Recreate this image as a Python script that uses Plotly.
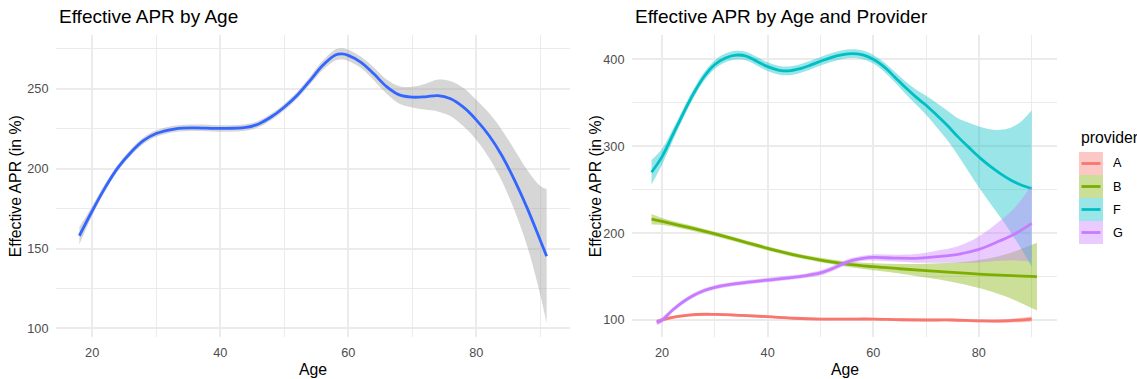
import plotly.graph_objects as go

# ---------------- data ----------------
# Left panel: overall smooth
age_all = [18, 20, 22, 24, 26, 28, 30, 33, 36, 40, 44, 46, 48, 50, 52, 54, 56, 58, 59, 60,
           62, 64, 66, 68, 70, 72, 74, 76, 78, 80, 82, 84, 86, 88, 90, 91]
apr_all = [158, 173.5, 188, 200.5, 210, 217.5, 222, 225, 225.6, 225.2, 225.8, 228, 232.5, 238.5,
           245.8, 255, 264.6, 271.2, 271.9, 271, 266.6, 259.4, 251.4, 246.2, 244.8, 245, 245.8,
           243.8, 238.5, 230.6, 220.8, 208.3, 192.7, 175, 155.2, 145.2]
se_all = [5.5, 3, 2.5, 2, 2, 2, 2, 2, 2, 2, 2, 2, 2, 2, 2.2, 2.5, 3, 3.5, 3.5, 3.5,
          3.5, 4, 4.5, 5.5, 6.5, 8, 10, 11, 12, 12.5, 14, 16, 19, 24, 34, 42]

# Right panel: by provider
providers = ["A", "B", "F", "G"]
colors = {"A": "#F8766D", "B": "#7CAE00", "F": "#00BFC4", "G": "#C77CFF"}

age_A = [19, 20, 22, 25, 28, 30, 35, 40, 45, 50, 55, 60, 65, 70, 75, 80, 85, 90]
apr_A = [98.1, 100, 103, 105.5, 106.6, 106.5, 105.3, 103.8, 102, 101.1, 101.1, 101.1, 100.3, 100,
         100, 99, 98.9, 101.1]
se_A = [2.5, 2, 1.5, 1.5, 1.5, 1.5, 1.5, 1.5, 1.5, 1.5, 1.5, 1.5, 1.5, 1.5, 1.5, 1.5, 2, 3]

age_B = [18, 20, 25, 30, 35, 40, 45, 50, 55, 60, 65, 70, 75, 80, 85, 91]
apr_B = [216, 213.5, 206.5, 199, 190.8, 182.4, 174.9, 169, 164.3, 161.3, 159, 156.8, 154.8, 152.9,
         151.3, 149.8]
se_B = [6, 4, 3, 2.5, 2.5, 2.5, 2.5, 2.5, 3, 4, 5.5, 8, 11, 16, 24, 39]

age_F = [18, 20, 22, 24, 26, 28, 30, 32, 34, 36, 38, 40, 42, 44, 46, 48, 50, 52, 54, 56,
         58, 60, 62, 64, 66, 68, 70, 72, 74, 76, 78, 80, 82, 84, 86, 88, 90]
apr_F = [270, 288, 312.6, 337.6, 361, 380.5, 394, 401.5, 404.8, 403.5, 397.5, 391.5, 387.6,
         386.6, 389, 393, 397.7, 402, 405, 406.4, 405, 400, 391.5, 380, 368, 357, 347.1,
         335.8, 324, 311, 299.2, 287.7, 277.6, 268.8, 261.2, 255.4, 251.3]
se_F = [14, 9, 6.5, 5.5, 5, 5, 5, 5, 5, 5, 5, 5, 5, 5, 5, 5, 5, 5, 5, 5,
        5, 5, 5.5, 6, 7, 8.5, 11, 14, 17, 21, 28, 35, 42, 50, 60, 73, 90]

age_G = [19, 20, 22, 24, 26, 28, 30, 33, 36, 40, 44, 47, 50, 52, 54, 56, 58, 60, 64, 68,
         72, 76, 80, 84, 87, 90]
apr_G = [96.9, 100, 111.5, 121, 128.5, 134, 137.6, 141, 143.3, 146, 148.6, 150.8, 154.2,
         158.5, 164, 168.5, 171, 172, 171.2, 171, 172.8, 175.5, 181.2, 191.1, 199.6, 211.1]
se_G = [3, 3, 2.5, 2.5, 2.5, 2.5, 2.5, 2.5, 2.5, 2.5, 2.5, 2.5, 3, 3, 3, 3, 3, 3.5, 4, 5,
        7, 9.5, 15, 23, 31, 44]

series = {
    "A": (age_A, apr_A, se_A),
    "B": (age_B, apr_B, se_B),
    "F": (age_F, apr_F, se_F),
    "G": (age_G, apr_G, se_G),
}

x_ticks = [20, 40, 60, 80]
left_y_ticks = [100, 150, 200, 250]
right_y_ticks = [100, 200, 300, 400]

# ---------------- layout constants (pixels) ----------------
W, H = 1137, 379
L_X0, L_X1 = 56, 570
R_X0, R_X1 = 632, 1057
P_TOP, P_BOT = 35.2, 337.3

def px(x):
    return x / W

def py(y):
    return 1 - y / H

FONT = "Liberation Sans, Arial, Helvetica, sans-serif"
GRID = "#EBEBEB"
TICK_COL = "#4D4D4D"

def rgba(hex_color, a):
    h = hex_color.lstrip("#")
    r, g, b = int(h[0:2], 16), int(h[2:4], 16), int(h[4:6], 16)
    return f"rgba({r},{g},{b},{a})"

fig = go.Figure()

def add_smooth(x, y, se, line_color, fill_color, xa, ya):
    lower = [v - s for v, s in zip(y, se)]
    upper = [v + s for v, s in zip(y, se)]
    fig.add_trace(go.Scatter(x=x, y=lower, mode="lines", line=dict(width=0, shape="spline", smoothing=1),
                             hoverinfo="skip", showlegend=False, xaxis=xa, yaxis=ya))
    fig.add_trace(go.Scatter(x=x, y=upper, mode="lines", line=dict(width=0, shape="spline", smoothing=1),
                             fill="tonexty", fillcolor=fill_color,
                             hoverinfo="skip", showlegend=False, xaxis=xa, yaxis=ya))
    fig.add_trace(go.Scatter(x=x, y=y, mode="lines",
                             line=dict(color=line_color, width=2.8, shape="spline", smoothing=1),
                             showlegend=False, xaxis=xa, yaxis=ya))

# left panel
add_smooth(age_all, apr_all, se_all, "#3366FF", "rgba(153,153,153,0.4)", "x", "y")

# right panel
for p in providers:
    a, v, s = series[p]
    add_smooth(a, v, s, colors[p], rgba(colors[p], 0.4), "x2", "y2")

axis_common = dict(
    showline=False, zeroline=False, showgrid=True, gridcolor=GRID, gridwidth=1.5,
    ticks="outside", tickcolor="rgba(0,0,0,0)",
    tickfont=dict(family=FONT, size=12.7, color=TICK_COL),
)

fig.update_layout(
    width=W, height=H,
    margin=dict(l=0, r=0, t=0, b=0),
    paper_bgcolor="white", plot_bgcolor="white",
    showlegend=False,
    xaxis=dict(domain=[px(L_X0), px(L_X1)], range=[14.35, 94.65], tickvals=x_ticks, ticklen=3,
               minor=dict(tickvals=[30, 50, 70, 90], showgrid=True, gridcolor=GRID, gridwidth=0.8),
               anchor="y", **axis_common),
    yaxis=dict(domain=[py(P_BOT), py(P_TOP)], range=[94.4, 283.6], tickvals=left_y_ticks, ticklen=4,
               minor=dict(tickvals=[125, 175, 225, 275], showgrid=True, gridcolor=GRID, gridwidth=0.8),
               anchor="x", **axis_common),
    xaxis2=dict(domain=[px(R_X0), px(R_X1)], range=[14.3, 94.8], tickvals=x_ticks, ticklen=3,
                minor=dict(tickvals=[30, 50, 70, 90], showgrid=True, gridcolor=GRID, gridwidth=0.8),
                anchor="y2", **axis_common),
    yaxis2=dict(domain=[py(P_BOT), py(P_TOP)], range=[80.1, 427.7], tickvals=right_y_ticks, ticklen=4,
                minor=dict(tickvals=[150, 250, 350], showgrid=True, gridcolor=GRID, gridwidth=0.8),
                anchor="x2", **axis_common),
)

annotations = []

def text(x, y, s, size, xanchor="center", angle=0, color="black"):
    annotations.append(dict(x=px(x), y=py(y), xref="paper", yref="paper", text=s, showarrow=False,
                            xanchor=xanchor, yanchor="middle", textangle=angle,
                            font=dict(family=FONT, size=size, color=color)))

# titles
text(L_X0 + 1, 16, "Effective APR by Age", 19, xanchor="left")
text(R_X0 + 1, 16, "Effective APR by Age and Provider", 19, xanchor="left")
# axis titles
text((L_X0 + L_X1) / 2, 369, "Age", 15.8)
text((R_X0 + R_X1) / 2, 369, "Age", 15.8)
text(15, (P_TOP + P_BOT) / 2, "Effective APR (in %)", 15.8, angle=-90)
text(595, (P_TOP + P_BOT) / 2, "Effective APR (in %)", 15.8, angle=-90)

# manual legend
LEG_X0, LEG_X1 = 1079, 1103
LEG_TOP, KEY_H = 152, 23
text(LEG_X0, 137, "provider", 15.8, xanchor="left")
shapes = []
for i, p in enumerate(providers):
    y0 = LEG_TOP + KEY_H * i
    y1 = y0 + KEY_H
    shapes.append(dict(type="rect", xref="paper", yref="paper",
                       x0=px(LEG_X0), x1=px(LEG_X1), y0=py(y1), y1=py(y0),
                       fillcolor=rgba(colors[p], 0.4), line=dict(width=0), layer="above"))
    yc = (y0 + y1) / 2
    shapes.append(dict(type="line", xref="paper", yref="paper",
                       x0=px(LEG_X0 + 2.5), x1=px(LEG_X1 - 2.5), y0=py(yc), y1=py(yc),
                       line=dict(color=colors[p], width=2.8), layer="above"))
    text(LEG_X1 + 8, yc, p, 12.7, xanchor="left")

fig.update_layout(annotations=annotations, shapes=shapes)

fig.write_html("out.html")
